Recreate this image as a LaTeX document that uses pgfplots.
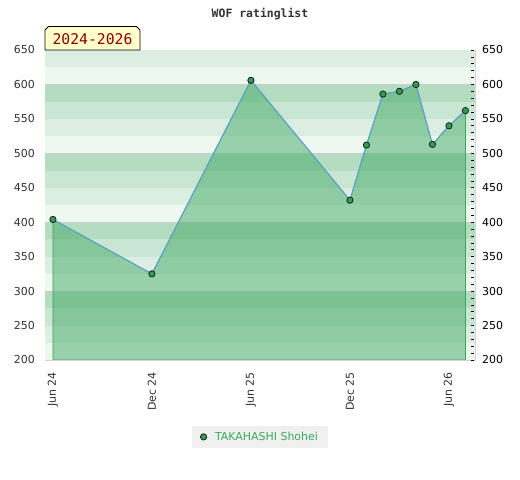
\documentclass[border=0pt]{standalone}
\usepackage{pgfplots}
\pgfplotsset{compat=1.18}
\usepackage{fontspec}
\setmainfont{DejaVu Sans}
\newfontfamily\monofont{DejaVu Sans Mono}
\definecolor{bandA}{HTML}{B3DCC0}
\definecolor{bandB}{HTML}{C8E6D1}
\definecolor{bandC}{HTML}{DCEDE2}
\definecolor{bandD}{HTML}{EFF7F1}
\definecolor{fillgreen}{HTML}{43AA66}
\definecolor{edgegreen}{HTML}{3AAA5A}
\definecolor{markgreen}{HTML}{339955}
\definecolor{lineblue}{HTML}{5FA0D8}
\definecolor{framegray}{HTML}{D4D4D4}
\definecolor{labgray}{HTML}{333333}
\definecolor{leggreen}{HTML}{3AA95C}
\definecolor{tagred}{HTML}{8B0000}
\definecolor{tagyellow}{HTML}{FFFFCC}
\pgfplotstableread{
x y
0 404
6 325
12 606
18 432
19 512
20 586
21 590
22 600
23 513
24 540
25 562
}\ratings
\begin{document}
\begin{tikzpicture}[x=1bp,y=1bp]
\path[use as bounding box, fill=white] (0,0) rectangle (520,480);
\begin{axis}[
  at={(45bp,120bp)}, anchor=south west,
  scale only axis, width=430bp, height=310bp,
  xmin=-0.48, xmax=25.58, ymin=200, ymax=650,
  ytick={200,250,...,650},
  xtick={0,6,12,18,24},
  xticklabels={Jun 24,Dec 24,Jun 25,Dec 25,Jun 26},
  major tick length=0pt, minor tick length=0pt,
  tick style={draw=none},
  axis line style={draw=framegray, line width=0.8bp},
  /pgf/number format/assume math mode=true,
  tick label style={font=\fontsize{11}{13}\selectfont, text=labgray, inner sep=0pt},
  x tick label style={rotate=90, anchor=east},
  xticklabel shift=12bp,
  yticklabel shift=10bp,
  legend style={at={(0.5,-0.248)}, anchor=center, fill={rgb,255:red,240;green,240;blue,240}, draw=none,
    font=\fontsize{11}{13}\selectfont, text=leggreen, inner xsep=8bp, inner ysep=4bp,
    /tikz/every odd column/.append style={column sep=6bp}},
  legend image code/.code={\draw[fill=markgreen, draw=black, line width=0.6bp] (0bp,0bp) circle (3.2bp);},
]
% background bands
\fill[bandC] (-1,625) rectangle (26,650);
\fill[bandD] (-1,600) rectangle (26,625);
\fill[bandA] (-1,575) rectangle (26,600);
\fill[bandB] (-1,550) rectangle (26,575);
\fill[bandC] (-1,525) rectangle (26,550);
\fill[bandD] (-1,500) rectangle (26,525);
\fill[bandA] (-1,475) rectangle (26,500);
\fill[bandB] (-1,450) rectangle (26,475);
\fill[bandC] (-1,425) rectangle (26,450);
\fill[bandD] (-1,400) rectangle (26,425);
\fill[bandA] (-1,375) rectangle (26,400);
\fill[bandB] (-1,350) rectangle (26,375);
\fill[bandC] (-1,325) rectangle (26,350);
\fill[bandD] (-1,300) rectangle (26,325);
\fill[bandA] (-1,275) rectangle (26,300);
\fill[bandB] (-1,250) rectangle (26,275);
\fill[bandC] (-1,225) rectangle (26,250);
\fill[bandD] (-1,200) rectangle (26,225);
\draw[gray!40, line width=0.6bp] (-1,300) -- (26,300);
\draw[gray!40, line width=0.6bp] (-1,400) -- (26,400);
\draw[gray!40, line width=0.6bp] (-1,500) -- (26,500);
\draw[gray!40, line width=0.6bp] (-1,600) -- (26,600);
% area
\addplot[draw=edgegreen, line width=0.8bp, fill=fillgreen, fill opacity=0.5, draw opacity=1, forget plot]
  table[x=x,y=y]{\ratings} \closedcycle;
% line with markers
\addplot[color=lineblue, line width=1bp, mark=*, mark size=3.2bp,
  mark options={fill=markgreen, draw=black, line width=0.6bp}]
  table[x=x,y=y]{\ratings};
\addlegendentry{TAKAHASHI Shohei}
\end{axis}
\begin{axis}[
  at={(45bp,120bp)}, anchor=south west,
  scale only axis, width=430bp, height=310bp,
  xmin=-0.48, xmax=25.58, ymin=200, ymax=650,
  hide x axis,
  axis y line*=right,
  axis line style={draw=framegray, line width=0.8bp},
  ytick={200,250,...,650},
  minor y tick num=4,
  tick align=inside,
  major tick length=3bp, minor tick length=3bp,
  every tick/.style={black, line width=0.6bp, xshift=-1.5bp},
  /pgf/number format/assume math mode=true,
  tick label style={font=\fontsize{11}{13}\selectfont, text=black, inner sep=0pt},
  yticklabel shift=7bp,
]
\end{axis}
\node[font=\monofont\bfseries\fontsize{11.5}{13}\selectfont, text=labgray] at (260,466) {WOF ratinglist};
\draw[fill=tagyellow, draw=black, line width=0.8bp]
  (45,430) -- (45,450) -- (48.5,453.5) -- (136.5,453.5) -- (140,450) -- (140,430) -- cycle;
\node[font=\monofont\fontsize{14.8}{16}\selectfont, text=tagred] at (92.5,440.5) {2024-2026};
\end{tikzpicture}
\end{document}
